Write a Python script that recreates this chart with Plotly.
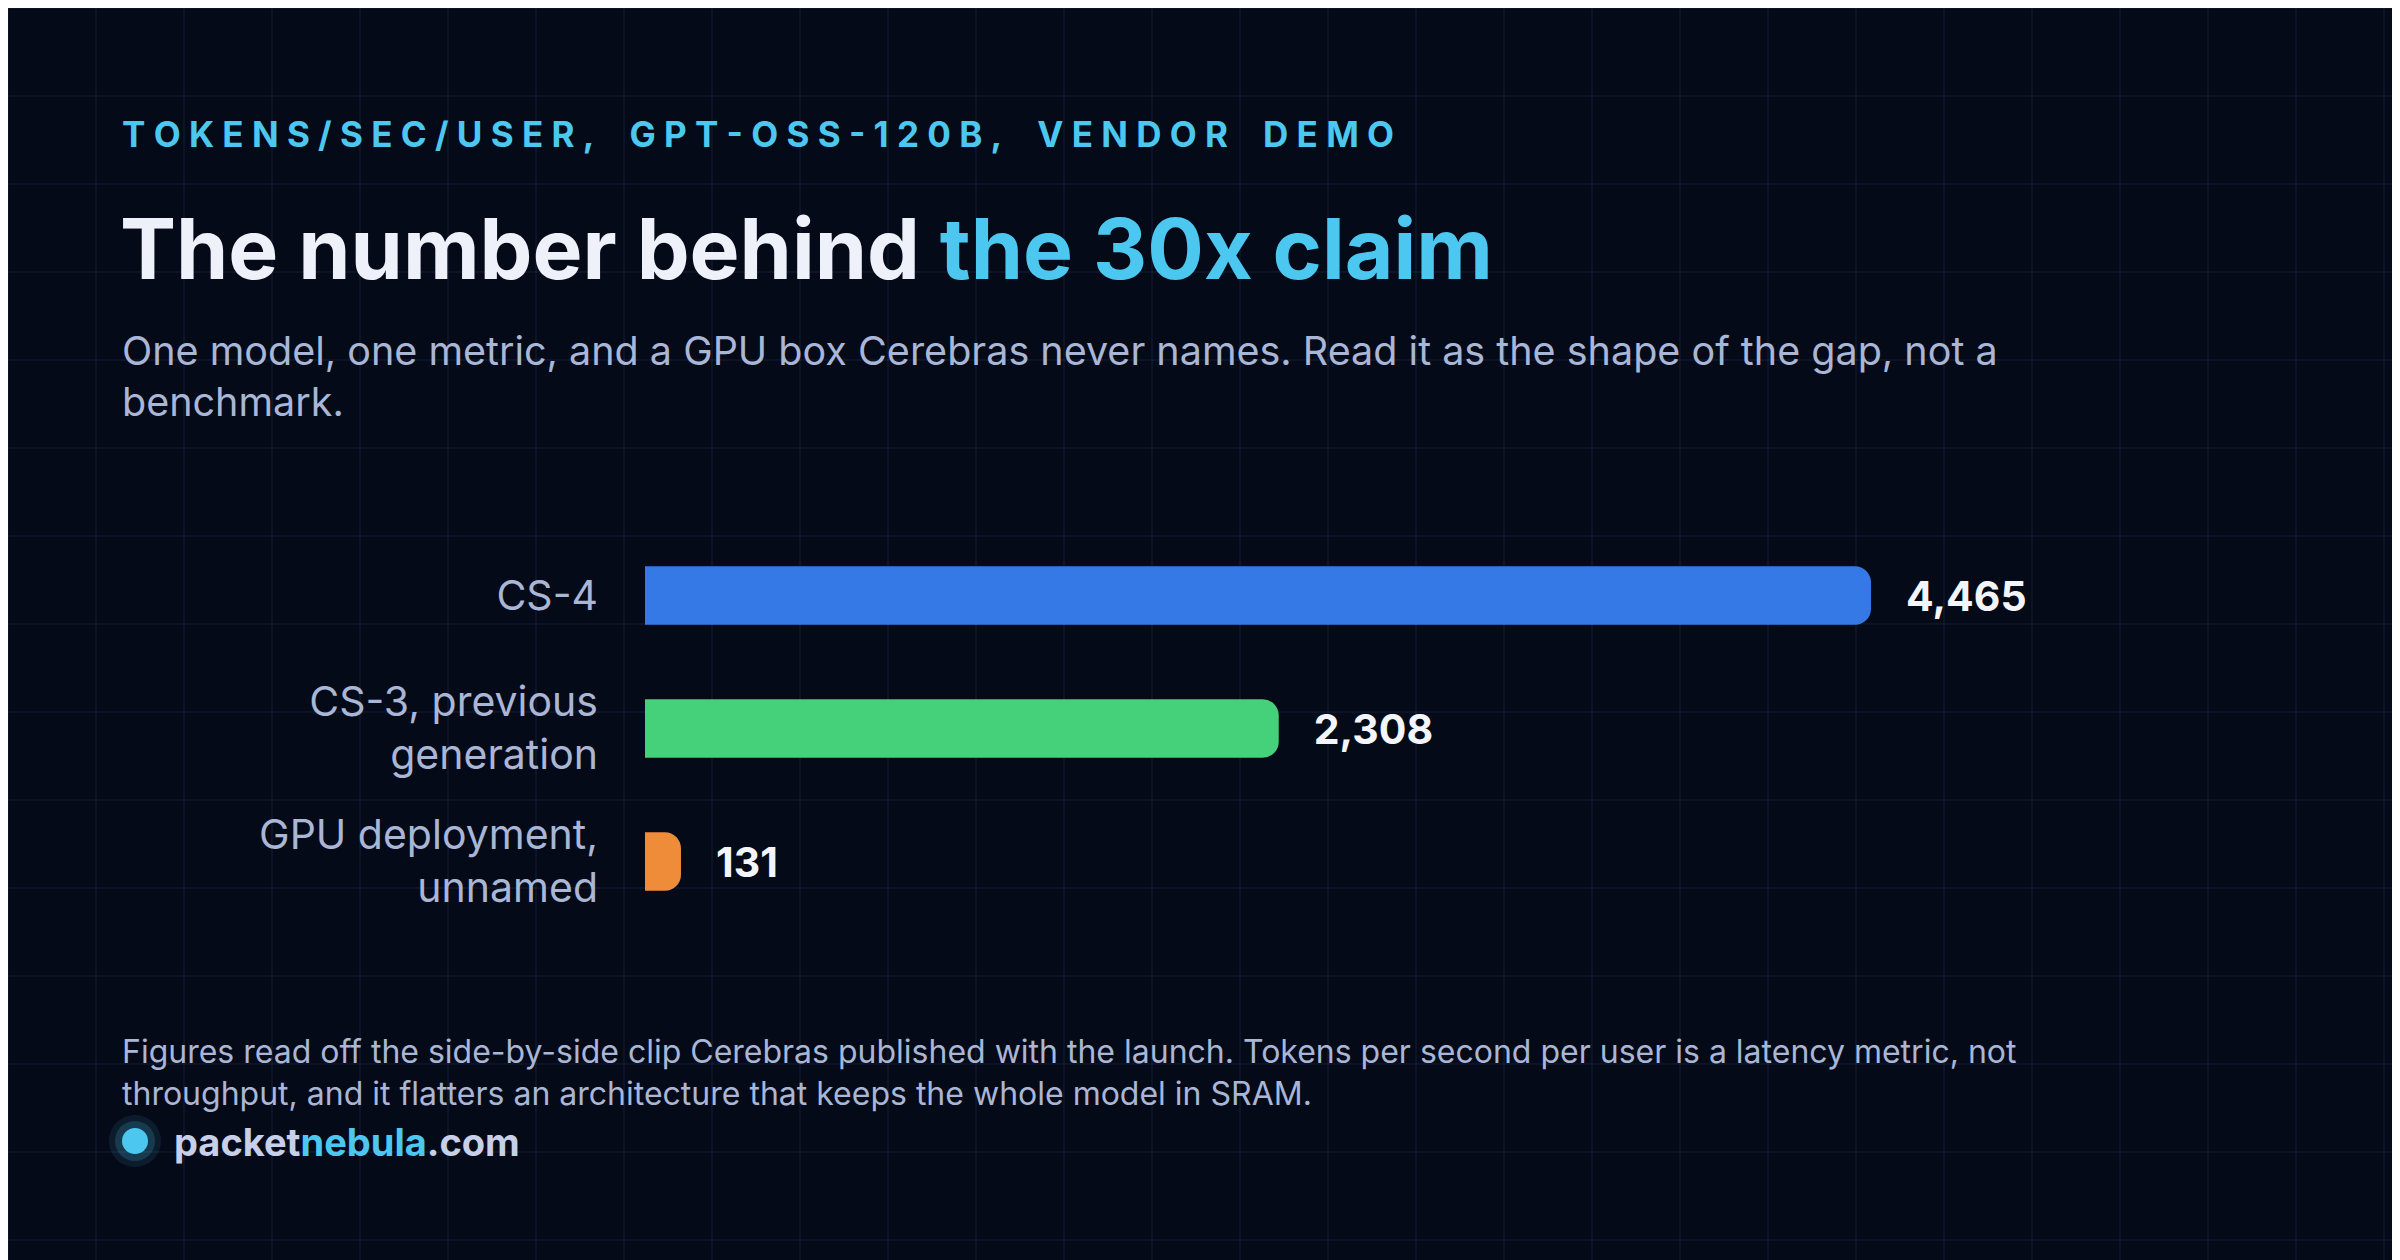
import plotly.graph_objects as go

categories = ["CS-4", "CS-3, previous<br>generation", "GPU deployment,<br>unnamed"]
values = [4465, 2308, 131]
colors = ["#3579e6", "#45d07a", "#ef8c3a"]
value_labels = ["4,465", "2,308", "131"]

W, H = 2400, 1260
FONT = "Inter"
DX = -8
DY = -9

fig = go.Figure()
fig.add_trace(go.Bar(
    y=categories, x=values, orientation="h",
    marker=dict(color=colors, cornerradius=16, line=dict(width=0)),
    text=value_labels, textposition="outside", texttemplate="\u2002 <b>%{text}</b>",
    textfont=dict(family=FONT, size=41, color="#f3f5fb"),
    cliponaxis=False, hoverinfo="skip",
))

shapes = []
g = 88
for i in range(0, W // g + 2):
    shapes.append(dict(type="line", xref="paper", yref="paper", x0=i*g/W, x1=i*g/W, y0=0, y1=1,
                       line=dict(color="rgba(70,110,150,0.16)", width=1.5), layer="below"))
for j in range(0, H // g + 2):
    shapes.append(dict(type="line", xref="paper", yref="paper", x0=0, x1=1, y0=1-j*g/H, y1=1-j*g/H,
                       line=dict(color="rgba(70,110,150,0.16)", width=1.5), layer="below"))
cx, cy = 135 + DX, 1142 + DY
for r, a in [(26, 0.10), (20, 0.18)]:
    shapes.append(dict(type="circle", xref="paper", yref="paper",
                       x0=(cx-r)/W, x1=(cx+r)/W, y0=1-(cy+r)/H, y1=1-(cy-r)/H,
                       fillcolor=f"rgba(76,200,240,{a})", line=dict(width=0)))
shapes.append(dict(type="circle", xref="paper", yref="paper",
                   x0=(cx-13)/W, x1=(cx+13)/W, y0=1-(cy+13)/H, y1=1-(cy-13)/H,
                   fillcolor="#4cc8f0", line=dict(width=0)))

def ann(text, px, py, size, color):
    return dict(text=text, x=(px+DX)/W, y=1-(py+DY)/H, xref="paper", yref="paper",
                xanchor="left", yanchor="middle", showarrow=False, align="left",
                font=dict(family=FONT, size=size, color=color))

annotations = [
    ann("<b>T O K E N S / S E C / U S E R ,\u2003G P T - O S S - 1 2 0 B ,\u2003V E N D O R\u2003D E M O</b>",
        120, 135, 35, "#4cc8f0"),
    ann("<b>The number behind <span style='color:#4cc8f0'>the 30x claim</span></b>", 118, 250, 84, "#eef1fa"),
    ann("One model, one metric, and a GPU box Cerebras never names. Read it as the shape of the gap, not a<br>benchmark.",
        120, 377, 39.5, "#a9b6d6"),
    ann("Figures read off the side-by-side clip Cerebras published with the launch. Tokens per second per user is a latency metric, not<br>throughput, and it flatters an architecture that keeps the whole model in SRAM.",
        120, 1073, 32, "#a9b6d6"),
    ann("<b>packet<span style='color:#4cc8f0'>nebula</span>.com</b>", 172, 1143, 38, "#c7d0e8"),
]

x0 = (645 + DX) / W
x1 = x0 + (1871 - 645) / W * 5000 / 4465

fig.update_layout(
    width=W, height=H, margin=dict(l=0, r=0, t=0, b=0),
    paper_bgcolor="#050a18", plot_bgcolor="rgba(0,0,0,0)",
    showlegend=False, bargap=0.56,
    xaxis=dict(domain=[x0, x1], range=[0, 5000], visible=False, fixedrange=True),
    yaxis=dict(domain=[1-(929+DY)/H, 1-(530+DY)/H], autorange="reversed", showgrid=False, zeroline=False,
               showline=False, ticks="", ticklabelstandoff=46,
               tickfont=dict(family=FONT, size=41, color="#a9b6d6")),
    shapes=shapes, annotations=annotations,
)
fig.write_html("out.html")
